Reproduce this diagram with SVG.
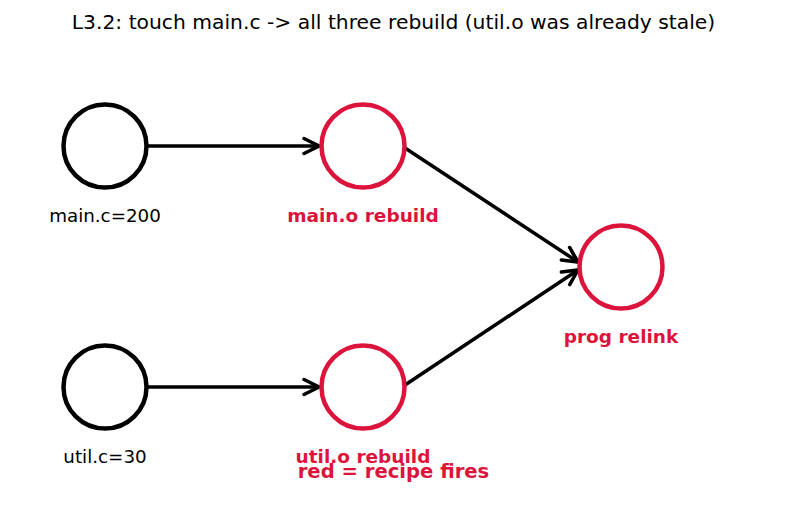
<svg xmlns="http://www.w3.org/2000/svg" width="787" height="507" viewBox="0 0 787 507">
<style>
.n{fill:#fff;stroke-width:4.5}
.blk{stroke:#000}
.red{stroke:#DC143C}
.lbl{font-family:"DejaVu Sans",sans-serif;font-size:18.3px;text-anchor:middle;fill:#000}
.rl{font-family:"DejaVu Sans",sans-serif;font-size:18.5px;font-weight:bold;text-anchor:middle;fill:#DC143C}
.e{stroke:#000;stroke-width:3.5;fill:none;marker-end:url(#ah)}
</style>
<defs>
<marker id="ah" viewBox="-18 -10 20 20" refX="0" refY="0" markerWidth="20" markerHeight="20" markerUnits="userSpaceOnUse" orient="auto">
<path d="M-15,-7.5 L0,0 L-15,7.5" fill="none" stroke="#000" stroke-width="3.5" stroke-linecap="round" stroke-linejoin="miter"/>
</marker>
</defs>
<rect width="787" height="507" fill="#fff"/>
<text x="393.5" y="29" font-family="DejaVu Sans,sans-serif" font-size="20.3" text-anchor="middle" fill="#000">L3.2: touch main.c -&gt; all three rebuild (util.o was already stale)</text>
<g id="edges">
<line class="e" x1="147" y1="146" x2="319" y2="146"/>
<line class="e" x1="147" y1="387" x2="319" y2="387"/>
<line class="e" x1="405" y1="148" x2="578" y2="262"/>
<line class="e" x1="405" y1="385" x2="578" y2="270"/>
</g>
<g id="main_c"><circle class="n blk" cx="105" cy="146" r="41.5"/><text class="lbl" x="105" y="222">main.c=200</text></g>
<g id="util_c"><circle class="n blk" cx="105" cy="387" r="41.5"/><text class="lbl" x="105" y="463">util.c=30</text></g>
<g id="main_o"><circle class="n red" cx="363" cy="146" r="41.5"/><text class="rl" x="363" y="222">main.o rebuild</text></g>
<g id="util_o"><circle class="n red" cx="363" cy="387" r="41.5"/><text class="rl" x="363" y="463">util.o rebuild</text></g>
<g id="prog"><circle class="n red" cx="621" cy="267" r="41.5"/><text class="rl" x="621" y="343">prog relink</text></g>
<text class="rl" x="393.5" y="478" style="font-size:19.6px">red = recipe fires</text>
</svg>
